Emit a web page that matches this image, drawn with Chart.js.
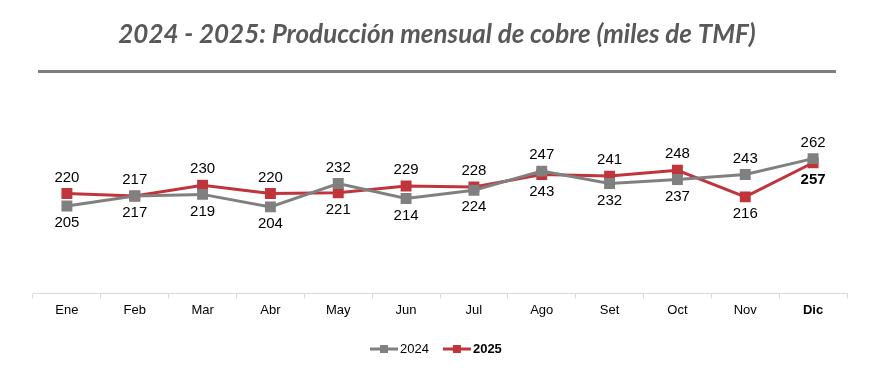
<!DOCTYPE html>
<html>
<head>
<meta charset="utf-8">
<script src="https://cdn.jsdelivr.net/npm/chart.js@4/dist/chart.umd.min.js"></script>
<style>
  html, body { margin: 0; padding: 0; background: #fff; }
  #wrap { width: 874px; height: 384px; position: relative; }
</style>
</head>
<body>
<div id="wrap"><canvas id="chart"></canvas></div>
<script>
const months = ['Ene','Feb','Mar','Abr','May','Jun','Jul','Ago','Set','Oct','Nov','Dic'];
const prod2024 = [205, 217, 219, 204, 232, 214, 224, 247, 232, 237, 243, 262];
const prod2025 = [220, 217, 230, 220, 221, 229, 228, 243, 241, 248, 216, 257];
const titleText = '2024 - 2025: Producción mensual de cobre (miles de TMF)';

const GRAY = '#808080';
const RED = '#c0343c';

// title, rule under it, point labels and custom legend
const decorations = {
    id: 'decorations',
    afterDatasetsDraw(chart){
        const ctx = chart.ctx;
        ctx.save();
        // title
        ctx.fillStyle = '#595959';
        ctx.font = 'italic bold 26px Lato';
        ctx.textAlign = 'center';
        ctx.textBaseline = 'middle';
        ctx.fillText(titleText, 437, 35);
        // rule
        ctx.strokeStyle = '#7f7f7f';
        ctx.lineWidth = 3;
        ctx.beginPath();
        ctx.moveTo(38, 71.5);
        ctx.lineTo(836, 71.5);
        ctx.stroke();

        // value labels: above for the higher series, below for the lower
        const a = chart.getDatasetMeta(0).data;
        const b = chart.getDatasetMeta(1).data;
        ctx.fillStyle = '#000';
        prod2024.forEach((v, i) => {
            const last = i === months.length - 1;
            const up24 = v > prod2025[i];
            ctx.font = '15px "Liberation Sans"';
            ctx.fillText(String(v), a[i].x, a[i].y + (up24 ? -16 : 17));
            ctx.font = (last ? 'bold ' : '') + '15px "Liberation Sans"';
            ctx.fillText(String(prod2025[i]), b[i].x, b[i].y + (up24 ? 17 : -16));
        });

        // legend
        const items = [['2024', GRAY, ''], ['2025', RED, 'bold ']];
        let x = 370;
        const y = 349;
        items.forEach(([lab, col, wt]) => {
            ctx.strokeStyle = col;
            ctx.lineWidth = 3;
            ctx.beginPath();
            ctx.moveTo(x, y);
            ctx.lineTo(x + 28, y);
            ctx.stroke();
            ctx.fillStyle = col;
            ctx.fillRect(x + 10, y - 4, 8, 8);
            ctx.fillStyle = '#000';
            ctx.font = wt + '13px "Liberation Sans"';
            ctx.textAlign = 'left';
            ctx.fillText(lab, x + 30, y);
            x += 30 + ctx.measureText(lab).width + 14;
        });
        ctx.restore();
    }
};

new Chart(document.getElementById('chart'), {
    type: 'line',
    data: {
        labels: months,
        datasets: [
            { label: '2024', data: prod2024, borderColor: GRAY, backgroundColor: GRAY, borderWidth: 3,
              pointStyle: 'rect', pointRadius: 5.6, tension: 0 },
            { label: '2025', data: prod2025, borderColor: RED, backgroundColor: RED, borderWidth: 3,
              pointStyle: 'rect', pointRadius: 5.6, tension: 0 }
        ]
    },
    options: {
        responsive: true,
        maintainAspectRatio: false,
        animation: false,
        layout: { padding: { left: 33, right: 27, top: 127, bottom: 62 } },
        plugins: { legend: { display: false }, title: { display: false }, tooltip: { enabled: false } },
        scales: {
            y: { display: false, min: 100, max: 300 },
            x: {
                offset: true,
                border: { color: '#d9d9d9', width: 1 },
                grid: { offset: true, drawOnChartArea: false, color: '#d9d9d9', tickLength: 5 },
                ticks: {
                    color: '#000',
                    padding: 4,
                    font: ctx => ({ family: 'Liberation Sans', size: 13, weight: ctx.index === 11 ? 'bold' : 'normal' })
                }
            }
        }
    },
    plugins: [decorations]
});
</script>
</body>
</html>
